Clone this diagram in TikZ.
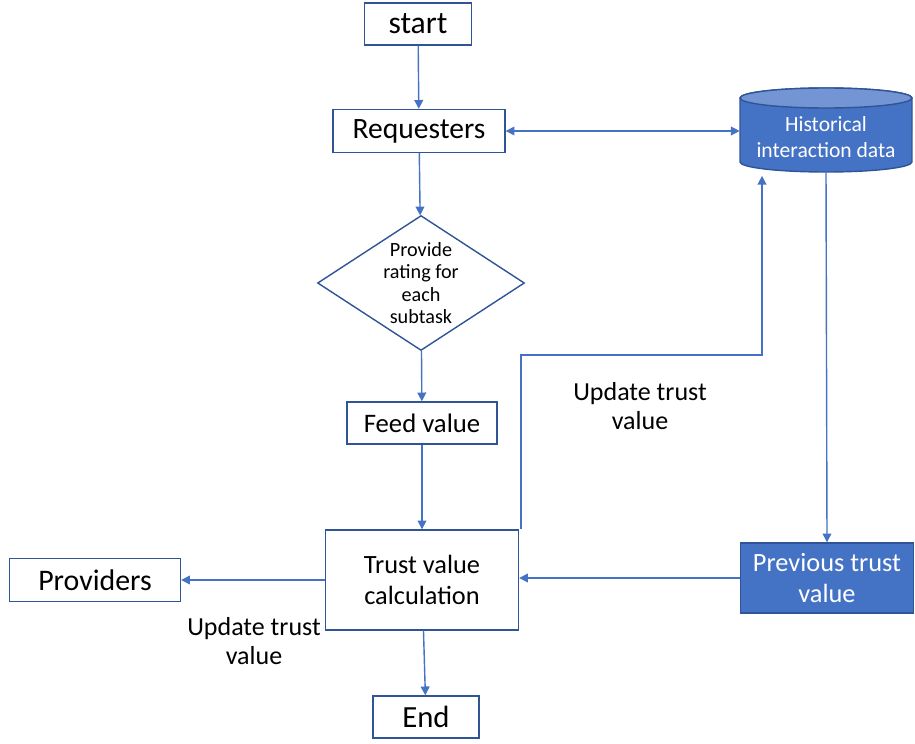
\documentclass[tikz,border=0pt]{standalone}
\usepackage{fontspec}
\setmainfont{Carlito}
\usetikzlibrary{arrows.meta, positioning, shapes.geometric}
\definecolor{oBlue}{HTML}{4472C4}
\definecolor{oEdge}{HTML}{2F5597}

\begin{document}
\begin{tikzpicture}[x=0.02cm, y=-0.02cm,
    box/.style={draw=oEdge, line width=0.8pt, fill=white, inner sep=0pt, align=center},
    flow/.style={oBlue, line width=0.8pt, -{Triangle[width=5pt, length=5pt]}},
    note/.style={align=center, font=\fontsize{14.8}{17}\selectfont}]
    \useasboundingbox (0,0) rectangle (915,743);

    \node[box, minimum width=2.14cm, minimum height=0.84cm, font=\fontsize{18}{21}\selectfont] (start) at (418,24) {start};
    \node[box, minimum width=3.44cm, minimum height=0.86cm, font=\fontsize{16.8}{20}\selectfont] (req) at (419,131) {Requesters};
    \node[box, diamond, minimum width=4.14cm, minimum height=2.7cm] (rate) at (421,283) {};
    \node[align=center, font=\fontsize{11.5}{12.8}\selectfont] (ratetxt) at (rate) {Provide\\rating for\\each\\subtask};
    \node[box, minimum width=3.0cm, minimum height=0.84cm, font=\fontsize{15.2}{17}\selectfont] (feed) at (422,423) {Feed value};
    \node[box, minimum width=3.86cm, minimum height=2.0cm, font=\fontsize{15}{17.5}\selectfont] (trust) at (422,580) {Trust value\\calculation};
    \node[box, minimum width=3.42cm, minimum height=0.86cm, font=\fontsize{17}{20}\selectfont] (prov) at (95,580) {Providers};
    \node[box, minimum width=2.12cm, minimum height=0.84cm, font=\fontsize{17.5}{20}\selectfont] (endn) at (426,717) {End};
    \node[box, fill=oBlue, text=white, minimum width=3.46cm, minimum height=1.4cm, font=\fontsize{15}{17.5}\selectfont] (prev) at (827,578) {Previous trust\\value};

    % cylinder for the stored history
    \path[fill=oBlue, draw=oEdge, line width=0.8pt] (740,98) -- (740,162)
      arc[start angle=180, end angle=360, x radius=1.72cm, y radius=0.2cm] -- (912,98)
      arc[start angle=0, end angle=180, x radius=1.72cm, y radius=0.2cm] -- cycle;
    \draw[fill=oBlue!75!white, draw=oEdge, line width=0.8pt] (826,98) ellipse[x radius=1.72cm, y radius=0.2cm];
    \node[inner sep=0pt, minimum width=3.44cm, minimum height=1.68cm] (hist) at (826,130) {};
    \node[align=center, text=white, font=\fontsize{12.3}{15}\selectfont] (histtxt) at (826,137) {Historical\\interaction data};

    \coordinate (bend) at (762,355);

    \draw[flow] (start) -- (req);
    \draw[oBlue, line width=0.8pt, {Triangle[width=5pt, length=5pt]}-{Triangle[width=5pt, length=5pt]}]
      (req.east) -- (req.east -| hist.west);
    \draw[flow] (req) -- (rate);
    \draw[flow] (rate) -- (feed);
    \draw[flow] (feed) -- (trust);
    \draw[flow, shorten >=2pt] ([xshift=1pt]trust.north east) |- (bend) -- (bend |- hist.south);
    \draw[flow] (hist.south) -- (prev.north);
    \draw[flow] (prev.west) -- (prev.west -| trust.east);
    \draw[flow] (trust.west) -- (trust.west -| prov.east);
    \draw[flow] (trust) -- (endn);

    \node[note] (upd1) at (640,406) {Update trust\\value};
    \node[note] (upd2) at (254,641) {Update trust\\value};
\end{tikzpicture}
\end{document}
